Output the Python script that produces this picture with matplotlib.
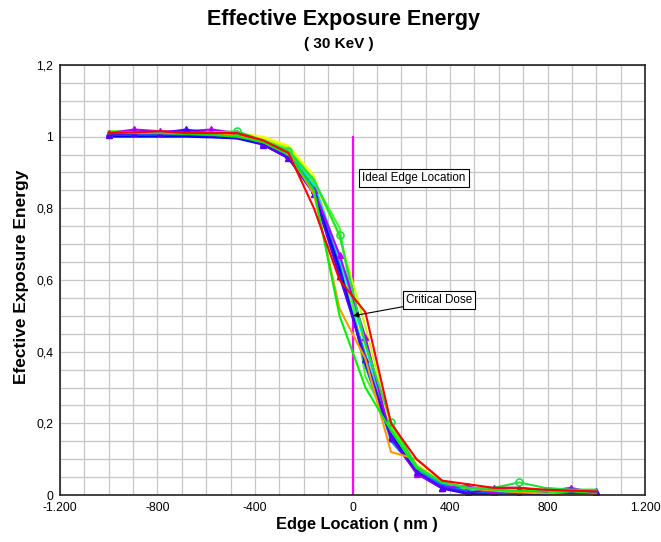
import matplotlib
matplotlib.use('Agg')
import matplotlib.pyplot as plt
from matplotlib.ticker import MultipleLocator, FuncFormatter

plt.rcParams['font.family'] = ['Liberation Sans', 'DejaVu Sans']

# edge positions (nm), 20 samples from -1000 to 1000
edge_nm = [-1000, -895, -789, -684, -579, -474, -368, -263, -158, -53,
           53, 158, 263, 368, 474, 579, 684, 789, 895, 1000]

# one curve per simulated resist profile
yellow = [1.012, 1.015, 1.015, 1.012, 1.012, 1.010, 1.000, 0.975, 0.890, 0.640,
          0.400, 0.200, 0.080, 0.020, 0.005, 0.008, 0.006, 0.005, 0.004, 0.004]
yellow_green = [1.015, 1.012, 1.012, 1.010, 1.010, 1.005, 0.995, 0.970, 0.880, 0.720,
                0.470, 0.190, 0.085, 0.035, 0.020, 0.012, 0.010, 0.008, 0.008, 0.007]
gold = [1.010, 1.010, 1.010, 1.010, 1.008, 1.005, 0.990, 0.958, 0.860, 0.630,
        0.380, 0.180, 0.080, 0.030, 0.012, 0.010, 0.008, 0.006, 0.006, 0.005]
cyan = [1.012, 1.012, 1.010, 1.008, 1.006, 1.003, 0.990, 0.962, 0.870, 0.660,
        0.420, 0.160, 0.075, 0.030, 0.012, 0.008, 0.006, 0.005, 0.005, 0.004]
teal = [1.010, 1.010, 1.008, 1.008, 1.006, 1.000, 0.985, 0.955, 0.860, 0.640,
        0.380, 0.170, 0.070, 0.030, 0.015, 0.010, 0.008, 0.006, 0.006, 0.005]
lime = [1.015, 1.015, 1.012, 1.012, 1.010, 1.005, 0.990, 0.965, 0.875, 0.745,
        0.330, 0.190, 0.080, 0.030, 0.015, 0.010, 0.010, 0.008, 0.008, 0.006]
green_low = [1.010, 1.010, 1.010, 1.008, 1.005, 1.000, 0.985, 0.950, 0.850, 0.500,
             0.300, 0.180, 0.075, 0.035, 0.020, 0.015, 0.012, 0.010, 0.010, 0.010]
dodger = [1.008, 1.008, 1.006, 1.005, 1.003, 1.000, 0.982, 0.950, 0.855, 0.620,
          0.390, 0.150, 0.070, 0.030, 0.010, 0.006, 0.004, 0.003, 0.003, 0.003]
royal = [1.005, 1.005, 1.005, 1.003, 1.000, 0.998, 0.980, 0.945, 0.850, 0.640,
         0.360, 0.160, 0.065, 0.025, 0.008, 0.004, 0.003, 0.002, 0.002, 0.002]
blue = [1.000, 1.000, 1.000, 1.000, 0.998, 0.995, 0.978, 0.940, 0.845, 0.630,
        0.370, 0.170, 0.060, 0.018, 0.003, 0.000, 0.000, 0.000, 0.002, 0.002]
orange = [1.010, 1.012, 1.010, 1.010, 1.008, 1.003, 0.985, 0.955, 0.840, 0.520,
          0.380, 0.120, 0.100, 0.040, 0.018, 0.012, 0.008, 0.004, 0.000, 0.002]
green_circ = [1.010, 1.012, 1.012, 1.010, 1.012, 1.015, 0.990, 0.960, 0.880, 0.725,
              0.420, 0.205, 0.080, 0.035, 0.020, 0.020, 0.035, 0.020, 0.015, 0.015]
violet_tri = [1.010, 1.020, 1.015, 1.015, 1.020, 1.010, 0.982, 0.948, 0.850, 0.670,
              0.440, 0.160, 0.060, 0.020, 0.025, 0.005, 0.000, 0.010, 0.020, 0.005]
purple_tri = [1.005, 1.010, 1.010, 1.020, 1.010, 1.005, 0.978, 0.940, 0.840, 0.610,
              0.380, 0.160, 0.065, 0.020, 0.005, 0.020, 0.020, 0.012, 0.010, 0.012]
red = [1.010, 1.012, 1.015, 1.010, 1.010, 1.010, 0.990, 0.955, 0.800, 0.600,
       0.510, 0.200, 0.100, 0.040, 0.030, 0.020, 0.020, 0.015, 0.012, 0.010]

# points of the circle series that show a marker in the original
circle_marks = [5, 7, 9, 11, 16]

series = [
    (yellow, '#ffff00', None),
    (yellow_green, '#c8ff00', None),
    (gold, '#ffc800', None),
    (cyan, '#00e0ff', None),
    (teal, '#00e080', None),
    (lime, '#40ff20', None),
    (dodger, '#0090ff', None),
    (royal, '#2050ff', None),
    (blue, '#0000ff', None),
    (violet_tri, '#b000ff', '^'),
    (purple_tri, '#5000ff', '^'),
    (orange, '#ff9900', None),
    (green_low, '#00f000', None),
    (green_circ, '#20e040', 'o'),
    (red, '#ff0000', None),
]

fig = plt.figure(figsize=(6.61, 5.42), dpi=100)
ax = fig.add_axes([60 / 661, 1 - 495 / 542, 585 / 661, 430 / 542])

for vals, col, mk in series:
    if mk == 'o':
        ax.plot(edge_nm, vals, color=col, lw=1.5, marker='o', ms=5,
                mfc='none', mec=col, mew=1.2, markevery=circle_marks)
    elif mk == '^':
        ax.plot(edge_nm, vals, color=col, lw=1.5, marker='^', ms=5,
                mfc=col, mec=col)
    else:
        ax.plot(edge_nm, vals, color=col, lw=1.5)

# ideal edge marker
ax.plot([0, 0], [0, 1.0], color='#ff00ff', lw=1.6, zorder=1.5)

ax.set_xlim(-1200, 1200)
ax.set_ylim(0, 1.2)
ax.xaxis.set_major_locator(MultipleLocator(400))
ax.xaxis.set_minor_locator(MultipleLocator(100))
ax.yaxis.set_major_locator(MultipleLocator(0.2))
ax.yaxis.set_minor_locator(MultipleLocator(0.05))


def fmt_x(v, pos):
    return f'{int(round(v)):,}'.replace(',', '.')


def fmt_y(v, pos):
    s = f'{v:.1f}'.rstrip('0').rstrip('.')
    return s.replace('.', ',')


ax.xaxis.set_major_formatter(FuncFormatter(fmt_x))
ax.yaxis.set_major_formatter(FuncFormatter(fmt_y))
ax.grid(True, which='both', color='#c6c6c6', lw=0.9, zorder=0)
ax.set_axisbelow(True)
ax.tick_params(axis='x', which='major', length=0, labelsize=8.8, pad=5)
ax.tick_params(axis='y', which='major', length=0, labelsize=8.8, pad=5)
ax.tick_params(which='minor', length=0)
for sp in ax.spines.values():
    sp.set_color('#222222')
    sp.set_linewidth(1.2)

ax.text(40, 0.885, 'Ideal Edge Location', fontsize=8.4, va='center', ha='left',
        bbox=dict(boxstyle='square,pad=0.25', fc='white', ec='black', lw=0.8))
ax.annotate('Critical Dose', xy=(2, 0.5), xytext=(220, 0.544), fontsize=8.4,
            va='center', ha='left',
            bbox=dict(boxstyle='square,pad=0.25', fc='white', ec='black', lw=0.8),
            arrowprops=dict(arrowstyle='-|>', color='black', lw=0.8,
                            mutation_scale=8, shrinkA=0, shrinkB=0))

fig.text(0.520, 1 - 19 / 542, 'Effective Exposure Energy', fontsize=15.5,
         fontweight='bold', ha='center', va='center')
fig.text(0.512, 1 - 44 / 542, '( 30 KeV )', fontsize=11,
         fontweight='bold', ha='center', va='center')
fig.text(22 / 661, 1 - 277 / 542, 'Efective Exposure Energy', fontsize=12.5,
         fontweight='bold', ha='center', va='center', rotation=90)
fig.text(357 / 661, 1 - 525 / 542, 'Edge Location ( nm )', fontsize=11.8,
         fontweight='bold', ha='center', va='center')

fig.savefig('out.png', dpi=100)
